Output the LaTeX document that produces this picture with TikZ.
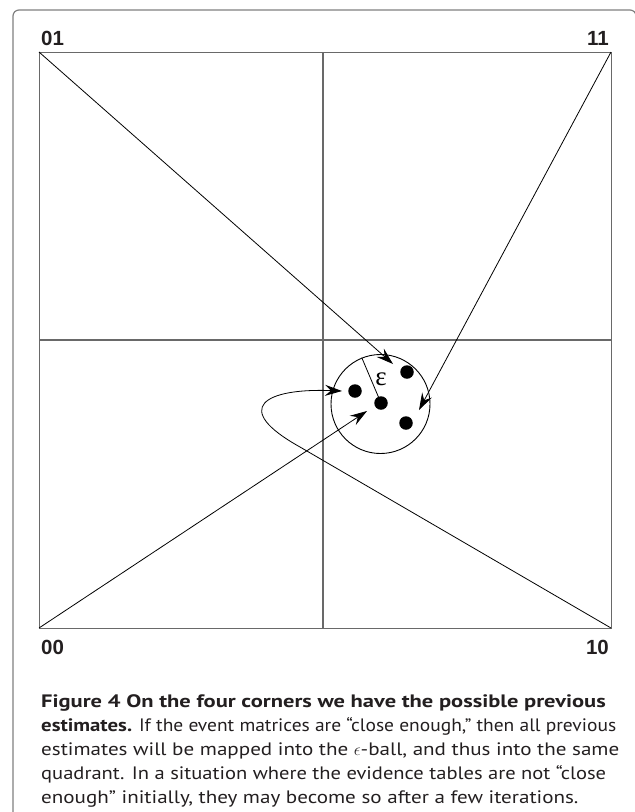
\documentclass[tikz,border=0pt]{standalone}
\usepackage{graphicx}
\usepackage{fontspec}
\newfontfamily\capfont{PT Sans}[FakeStretch=1.17, BoldFeatures={FakeStretch=1.25}]
\newfontfamily\lblfont{Liberation Sans}
\newfontfamily\grkfont{Liberation Serif}
\usetikzlibrary{arrows.meta}
\definecolor{framegray}{RGB}{128,128,128}
\definecolor{gridgray}{RGB}{105,105,105}
\definecolor{ink}{RGB}{35,31,32}
\tikzset{
  corner/.style={font=\lblfont\bfseries\fontsize{20.5}{24}\selectfont, inner sep=0pt, text=ink},
  capline/.style={font=\capfont\fontsize{18}{24}\selectfont, inner sep=0pt, anchor=base west, text=ink},
  dotnode/.style={circle, fill=black, minimum size=13.5pt, inner sep=0pt},
  mapto/.style={draw=black, line width=0.8pt, -{Stealth[length=17pt,width=11pt,inset=6pt]}},
}
\begin{document}
\begin{tikzpicture}[x=1pt,y=-1pt]
\useasboundingbox (0,0) rectangle (635,812);
\clip (0,0) rectangle (635,812);
% outer frame
\draw[framegray, line width=1.2pt, rounded corners=6pt] (13,830) -- (13,10) -- (636,10) -- (636,830);
% square and quadrants
\draw[gridgray, line width=1pt] (39,52) rectangle (611,628);
\draw[gridgray, line width=1.1pt] (323,52) -- (323,628);
\draw[gridgray, line width=1.1pt] (39,340) -- (611,340);
% corners
\coordinate (c01) at (39,52);
\coordinate (c11) at (611,52);
\coordinate (c00) at (39,628);
\coordinate (c10) at (611,628);
\node[corner, anchor=base west] (l01) at (41,45.5) {01};
\node[corner, anchor=base east] (l11) at (609,45.5) {11};
\node[corner, anchor=base west] (l00) at (41,654) {00};
\node[corner, anchor=base east] (l10) at (609,654) {10};
% epsilon ball
\node[circle, draw=black, line width=0.9pt, minimum size=99pt, inner sep=0pt] (ball) at (380.5,404) {};
\node[dotnode] (d1) at (355,391) {};
\node[dotnode] (d2) at (381,403) {};
\node[dotnode] (d3) at (407,372) {};
\node[dotnode] (d4) at (406,423) {};
\draw[black, line width=0.8pt] (d2.center) -- (ball.112.9);
\node[font=\grkfont\fontsize{27}{27}\selectfont, inner sep=0pt, anchor=base] (eps) at (381,385.5) {ε};
% mappings
\coordinate (t01) at (393,364);
\coordinate (t11) at (419,410);
\coordinate (t00) at (367,411);
\coordinate (t10) at (342,391);
\coordinate (k10) at (300,447);
\draw[mapto] (c01) -- (t01);
\draw[mapto] (c11) -- (t11);
\draw[mapto] (c00) -- (t00);
\draw[mapto] (c10) -- (k10) .. controls (230,408) and (265,388) .. (t10);
% caption
\node[capline] (cap1) at (41,707) {\bfseries Figure 4 On the four corners we have the possible previous};
\node[capline] (cap2) at (41,731) {\scalebox{0.925}[1]{\textbf{estimates.} If the event matrices are “close enough,” then all previous}};
\node[capline] (cap3) at (41,755) {estimates will be mapped into the $\epsilon$-ball, and thus into the same};
\node[capline] (cap4) at (41,779) {\scalebox{0.975}[1]{quadrant. In a situation where the evidence tables are not “close}};
\node[capline] (cap5) at (41,803) {enough” initially, they may become so after a few iterations.};
\end{tikzpicture}
\end{document}
